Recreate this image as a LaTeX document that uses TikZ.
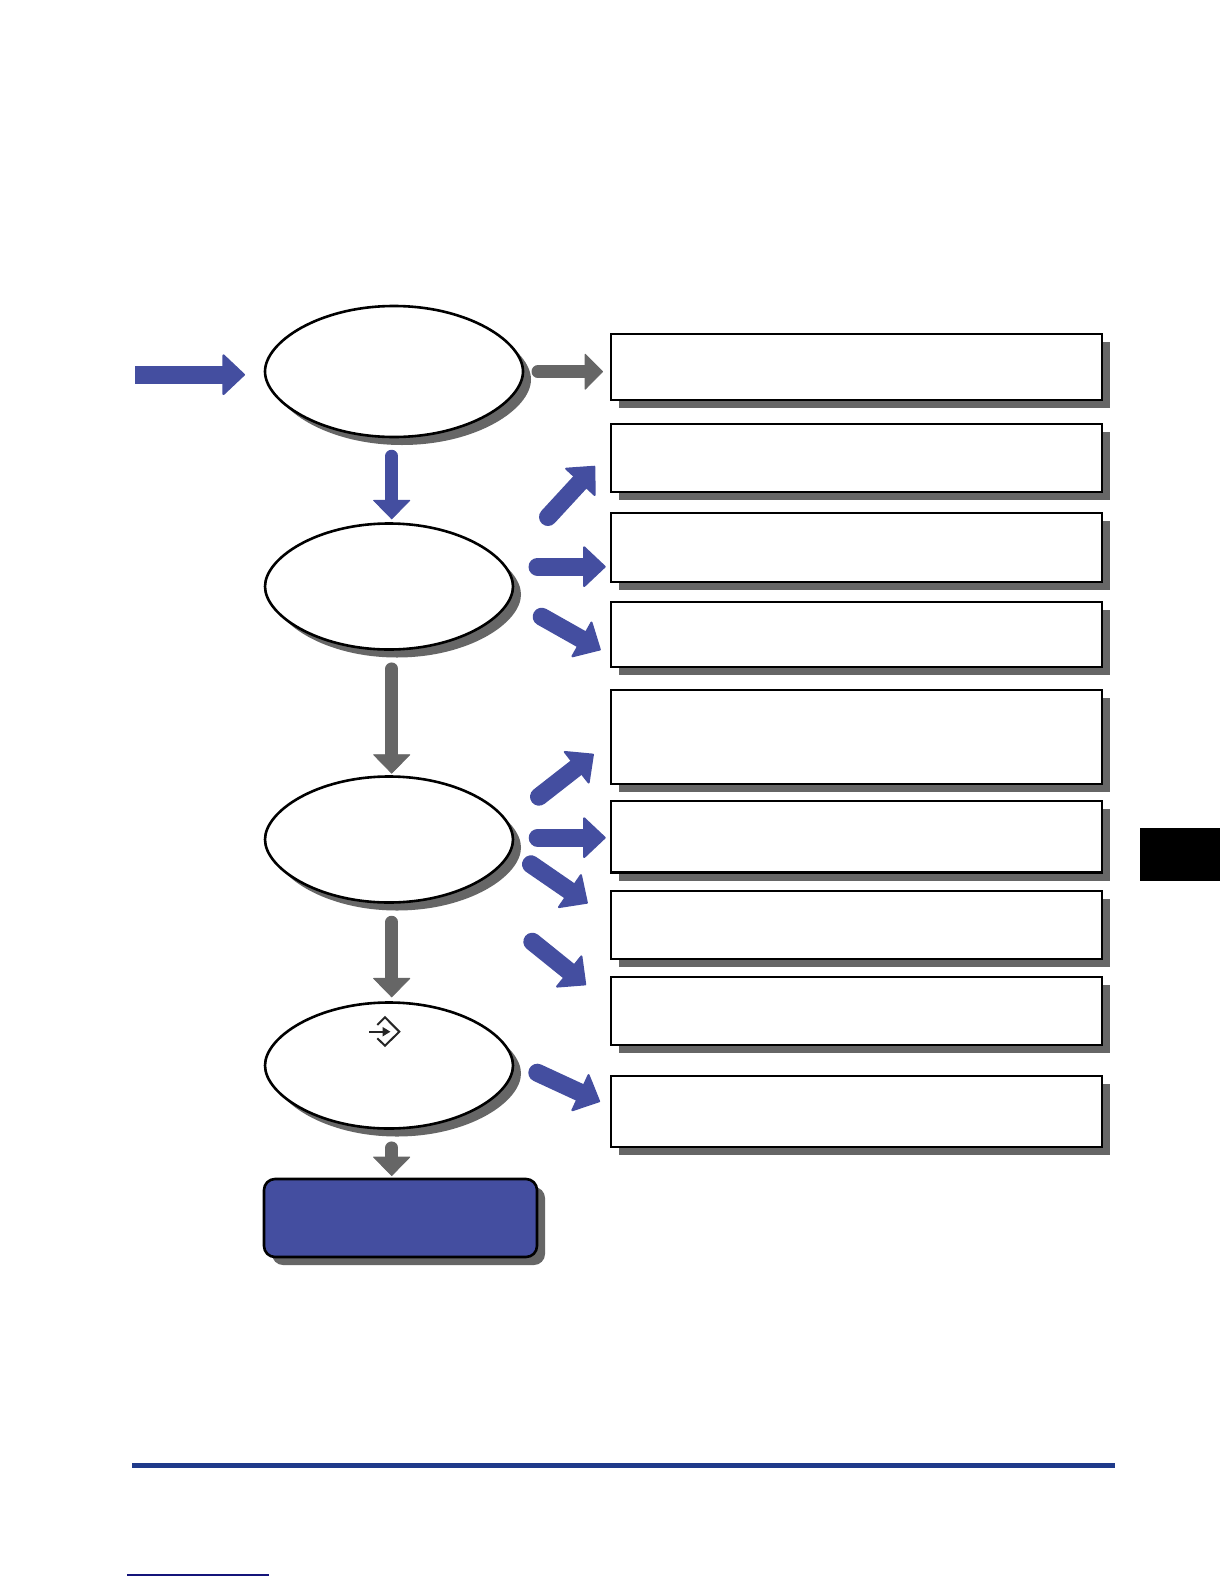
\documentclass[tikz,border=0pt]{standalone}
\usetikzlibrary{arrows.meta,shadows}
\definecolor{brandblue}{HTML}{444EA0}
\definecolor{shgray}{HTML}{666666}
\definecolor{footblue}{HTML}{1F3A8A}
\definecolor{footnavy}{HTML}{14147A}
\tikzset{
  shadowed/.style={copy shadow={shadow xshift=8pt,shadow yshift=-8pt,fill=shgray,draw=none,opacity=1}},
  flowbox/.style={draw=black,line width=2.6pt,fill=white,inner sep=0pt,shadowed},
  endbox/.style={draw=black,line width=2.6pt,fill=brandblue,inner sep=0pt,rounded corners=11pt,shadowed},
  bigblue/.style={draw=brandblue,line width=18pt,line cap=round,-{Triangle[width=43pt,length=23pt,round,line width=2pt,fill=brandblue]}},
  biggray/.style={draw=shgray,line width=13pt,line cap=round,-{Triangle[width=37pt,length=18.5pt,round,line width=1pt,fill=shgray]}},
  thinblue/.style={draw=brandblue,line width=12.5pt,line cap=round,-{Triangle[width=38pt,length=19.5pt,round,line width=.8pt,fill=brandblue]}},
  thingray/.style={draw=shgray,line width=12.5pt,line cap=round,-{Triangle[width=38pt,length=19.5pt,round,line width=.8pt,fill=shgray]}},
}
\newcommand{\flowrect}[6]{%
  \pgfmathsetmacro{\rw}{#4-#2}\pgfmathsetmacro{\rh}{#5-#3}%
  \pgfmathsetmacro{\rx}{(#4+#2)/2}\pgfmathsetmacro{\ry}{(#5+#3)/2}%
  \node[#6,minimum width=\rw pt,minimum height=\rh pt] (#1) at (\rx,\ry) {};}
\newcommand{\blobpath}[4]{% cx cy rx ry
  (#1-#3,#2) .. controls (#1-#3,#2-0.45*#4) and (#1-0.58*#3,#2-#4) .. (#1,#2-#4)
  .. controls (#1+0.58*#3,#2-#4) and (#1+#3,#2-0.45*#4) .. (#1+#3,#2)
  .. controls (#1+#3,#2+0.45*#4) and (#1+0.58*#3,#2+#4) .. (#1,#2+#4)
  .. controls (#1-0.58*#3,#2+#4) and (#1-#3,#2+0.45*#4) .. (#1-#3,#2) -- cycle}
\newcommand{\flowblob}[5]{%
  \fill[shgray,shift={(8,8)}] \blobpath{#2}{#3}{#4}{#5};
  \draw[black,line width=2.6pt,fill=white] \blobpath{#2}{#3}{#4}{#5};
  \coordinate (#1) at (#2,#3);}
\begin{document}
\begin{tikzpicture}[x=1pt,y=-1pt]
\useasboundingbox (0,0) rectangle (1224,1584);
\fill[white] (0,0) rectangle (1224,1584);

% decision shapes
\flowblob{ea}{394}{371.5}{129}{65.5}
\flowblob{eb}{389}{586.5}{124}{63}
\flowblob{ec}{389}{839.5}{124}{63}
\flowblob{ed}{389}{1065.5}{124}{63}

% right boxes
\flowrect{ba}{611}{334}{1102}{400}{flowbox}
\flowrect{bb}{611}{424}{1102}{492}{flowbox}
\flowrect{bc}{611}{513}{1102}{582}{flowbox}
\flowrect{bd}{611}{602}{1102}{667}{flowbox}
\flowrect{be}{611}{690}{1102}{784}{flowbox}
\flowrect{bf}{611}{801}{1102}{872.5}{flowbox}
\flowrect{bg}{611}{891}{1102}{959}{flowbox}
\flowrect{bh}{611}{977}{1102}{1045}{flowbox}
\flowrect{bi}{611}{1076}{1102}{1147}{flowbox}

% end box
\flowrect{endb}{264}{1179}{537}{1257}{endbox}

% side tab
\node[fill=black,inner sep=0pt,minimum width=80pt,minimum height=53pt] (tab) at (1180,854) {};

% footer rules
\node[fill=footblue,inner sep=0pt,minimum width=983pt,minimum height=5pt] (rulea) at (623.5,1465.5) {};
\node[fill=footnavy,inner sep=0pt,minimum width=142pt,minimum height=1.5pt] (ruleb) at (198,1575.2) {};

% arrow end points
\coordinate (a0s) at (135,374.7);  \coordinate (a0e) at (245,374.7);
\coordinate (a1s) at (538,371.7);  \coordinate (a1e) at (603,371.7);
\coordinate (a2s) at (391.7,456);  \coordinate (a2e) at (391.7,519.3);
\coordinate (a3s) at (548,517);    \coordinate (a3e) at (595,466);
\coordinate (a4s) at (537.5,566.7);\coordinate (a4e) at (605.7,566.7);
\coordinate (a5s) at (541.7,616.7);\coordinate (a5e) at (600.7,650);
\coordinate (a6s) at (391.7,668.7);\coordinate (a6e) at (391.7,773.6);
\coordinate (a7s) at (539,796.7);  \coordinate (a7e) at (593.7,754);
\coordinate (a8s) at (537.7,837.7);\coordinate (a8e) at (605.7,837.7);
\coordinate (a9s) at (531,864.3);  \coordinate (a9e) at (587.7,903.3);
\coordinate (a10s) at (532.3,941.7);\coordinate (a10e) at (586,985);
\coordinate (a11s) at (391.7,922); \coordinate (a11e) at (391.7,997.3);
\coordinate (a12s) at (537.3,1072.7);\coordinate (a12e) at (600,1101.7);
\coordinate (a13s) at (391.7,1147.7);\coordinate (a13e) at (391.7,1176);

\draw[bigblue,line cap=butt] (a0s) -- (a0e);
\draw[biggray] (a1s) -- (a1e);
\draw[thinblue] (a2s) -- (a2e);
\draw[bigblue] (a3s) -- (a3e);
\draw[bigblue] (a4s) -- (a4e);
\draw[bigblue] (a5s) -- (a5e);
\draw[thingray] (a6s) -- (a6e);
\draw[bigblue] (a7s) -- (a7e);
\draw[bigblue] (a8s) -- (a8e);
\draw[bigblue] (a9s) -- (a9e);
\draw[bigblue] (a10s) -- (a10e);
\draw[thingray] (a11s) -- (a11e);
\draw[bigblue] (a12s) -- (a12e);
\draw[thingray] (a13s) -- (a13e);

% login key icon
\draw[line width=2pt,draw=black!85,line join=miter] (377.3,1025) -- (385,1017.3) -- (399.3,1031.7) -- (385,1045.7) -- (377.3,1038.3);
\coordinate (icons) at (369.3,1031.7); \coordinate (icone) at (390.5,1031.7);
\draw[line width=2.4pt,draw=black!85,-{Triangle[width=9pt,length=8pt]}] (icons) -- (icone);
\end{tikzpicture}
\end{document}
